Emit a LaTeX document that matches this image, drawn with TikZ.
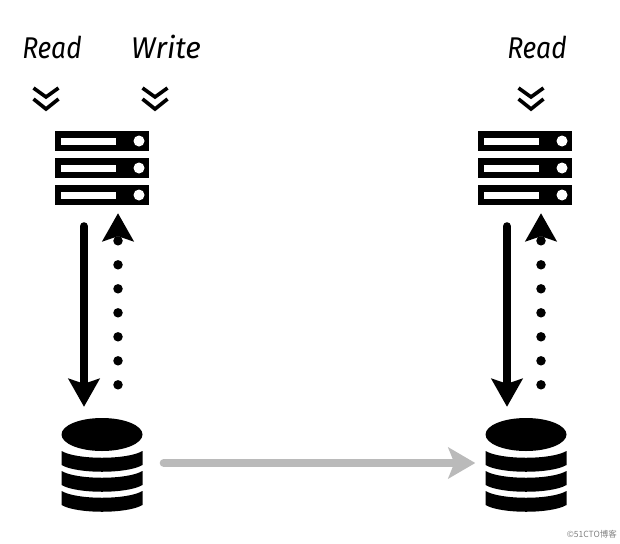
\documentclass[tikz,border=0pt]{standalone}
\usepackage{fontspec}
\setmainfont{Fira Sans}
\newfontfamily\cjkfont{Noto Sans CJK SC}
\usetikzlibrary{arrows.meta}
\tikzset{
	hand/.style={font=\itshape\fontsize{30}{30}\selectfont,black,transform shape},
	box/.style={inner sep=0pt,minimum width=#1},
	solidarrow/.style={line width=8pt,line cap=round,-{Stealth[length=28pt,width=31pt,inset=5pt]}},
	dotarrow/.style={line width=9.5pt,line cap=round,dash pattern=on 0pt off 24pt,-{Stealth[length=28pt,width=31pt,inset=5pt]}},
	greyarrow/.style={line width=8pt,line cap=round,color=black!27,-{Stealth[length=27pt,width=31pt,inset=6pt]}},
	pics/chevrons/.style={code={
		\draw[line width=3.6pt] (-12.5,-10) -- (0,-1) -- (12.5,-10);
		\draw[line width=3.6pt] (-12.5,1) -- (0,11) -- (12.5,1);
	}},
	pics/rack/.style={code={
		\foreach \y in {-27,0,27}{
			\fill (-47,\y-10) rectangle (47,\y+10);
			\fill[white] (-41,\y-3.5) rectangle (14,\y+3.5);
			\fill[white] (37,\y) circle(5.5);
		}
	}},
	pics/cylinder/.style={code={
		\fill (0,-30.5) ellipse[x radius=40.5,y radius=16.5];
		\foreach \y in {-14,6,26}{
			\fill (-40.5,\y) .. controls (-25,\y+9) and (25,\y+9) .. (40.5,\y) -- (40.5,\y+14)
				.. controls (25,\y+23) and (-25,\y+23) .. (-40.5,\y+14) -- cycle;
		}
	}}
}
\begin{document}
\begin{tikzpicture}[x=1pt,y=-1pt]
	\useasboundingbox (0,0) rectangle (620,543);

	\node[box=94pt,minimum height=74pt] (srvl) at (102,168) {};
	\node[box=94pt,minimum height=74pt] (srvr) at (525,168) {};
	\node[box=81pt,minimum height=94pt] (dbl) at (102,465) {};
	\node[box=81pt,minimum height=94pt] (dbr) at (526,465) {};

	\pic at (srvl) {rack};
	\pic at (srvr) {rack};
	\pic at (dbl) {cylinder};
	\pic at (dbr) {cylinder};

	\node[hand,xscale=.88] (readl) at (52,47) {Read};
	\node[hand] (write) at (166,47) {Write};
	\node[hand,xscale=.88] (readr) at (537,47) {Read};

	\pic at (46,98) {chevrons};
	\pic at (155,98) {chevrons};
	\pic at (531,98) {chevrons};

	\coordinate (al) at ([xshift=-18pt,yshift=-21pt]srvl.south);
	\coordinate (bl) at ([xshift=-18pt,yshift=11pt]dbl.north);
	\coordinate (cl) at ([xshift=16pt,yshift=33pt]dbl.north);
	\coordinate (dl) at ([xshift=16pt,yshift=-8pt]srvl.south);
	\coordinate (ar) at ([xshift=-18pt,yshift=-21pt]srvr.south);
	\coordinate (br) at ([xshift=-19pt,yshift=11pt]dbr.north);
	\coordinate (cr) at ([xshift=15pt,yshift=33pt]dbr.north);
	\coordinate (dr) at ([xshift=16pt,yshift=-8pt]srvr.south);
	\coordinate (gl) at ([xshift=21pt,yshift=2pt]dbl.east);
	\coordinate (gr) at ([xshift=-10pt,yshift=2pt]dbr.west);

	\draw[solidarrow] (al) -- (bl);
	\draw[dotarrow] (cl) -- (dl);
	\draw[solidarrow] (ar) -- (br);
	\draw[dotarrow] (cr) -- (dr);
	\draw[greyarrow] (gl) -- (gr);

	\node[font=\cjkfont\fontsize{8.5}{9}\selectfont,black!50,anchor=east,inner sep=0pt] (mark) at (617,534) {©51CTO博客};
\end{tikzpicture}
\end{document}
